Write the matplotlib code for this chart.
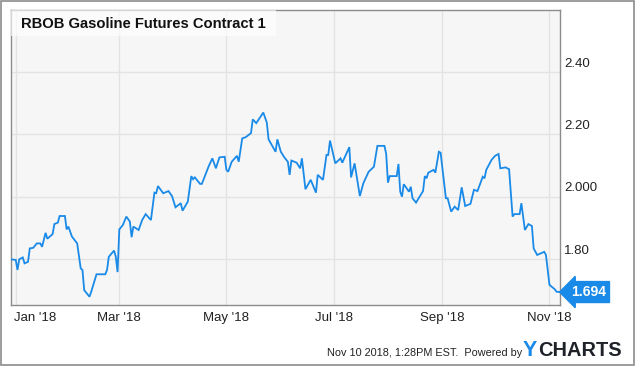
import matplotlib
matplotlib.use("Agg")
import matplotlib.pyplot as plt
import matplotlib.transforms as mtransforms
from matplotlib.patches import Rectangle
import pandas as pd

plt.rcParams['font.family'] = ['Liberation Sans', 'DejaVu Sans']

title = "RBOB Gasoline Futures Contract 1"
# day offsets from 2018-01-01 and settlement prices (USD/gal)
days = [-3, 0, 1, 2, 4, 5, 7, 8, 10, 12, 14, 15, 17, 18, 21, 22, 24, 25, 28, 29,
        30, 32, 35, 37, 38, 39, 42, 43, 46, 51, 52, 53, 56, 57, 58, 59, 61, 63, 65, 66,
        67, 70, 72, 74, 77, 79, 80, 81, 84, 87, 89, 91, 94, 95, 98, 100, 101, 102, 105, 106,
        108, 110, 112, 114, 116, 119, 120, 121, 123, 126, 127, 129, 131, 134, 135, 137, 141, 143, 144, 148,
        149, 151, 153, 155, 156, 157, 160, 162, 163, 165, 168, 171, 172, 175, 177, 178, 179, 182, 185, 186,
        190, 191, 193, 196, 198, 201, 204, 206, 210, 211, 212, 213, 217, 218, 219, 220, 221, 224, 225, 226,
        228, 232, 233, 234, 235, 238, 239, 241, 242, 245, 246, 248, 250, 252, 254, 256, 259, 261, 263, 266,
        267, 268, 271, 273, 275, 276, 279, 281, 283, 284, 287, 288, 290, 292, 294, 295, 297, 301, 302, 304,
        307, 308, 310]
prices = [1.799, 1.797, 1.765, 1.799, 1.805, 1.786, 1.791, 1.834, 1.836, 1.850, 1.850, 1.839, 1.884, 1.865, 1.880, 1.912, 1.917, 1.938, 1.938, 1.895,
          1.904, 1.872, 1.850, 1.770, 1.765, 1.700, 1.679, 1.695, 1.751, 1.751, 1.765, 1.807, 1.827, 1.807, 1.758, 1.895, 1.909, 1.936, 1.920, 1.870,
          1.904, 1.893, 1.925, 1.944, 1.925, 2.013, 2.011, 2.034, 2.011, 2.018, 2.002, 1.966, 1.979, 1.955, 1.984, 2.066, 2.056, 2.062, 2.041, 2.041,
          2.070, 2.099, 2.123, 2.091, 2.126, 2.128, 2.086, 2.080, 2.112, 2.131, 2.112, 2.187, 2.191, 2.204, 2.248, 2.236, 2.270, 2.238, 2.184, 2.144,
          2.184, 2.144, 2.126, 2.112, 2.070, 2.116, 2.109, 2.091, 2.123, 2.024, 2.054, 2.013, 2.070, 2.054, 2.134, 2.134, 2.180, 2.107, 2.123, 2.109,
          2.159, 2.062, 2.107, 2.002, 2.043, 2.080, 2.096, 2.163, 2.163, 2.137, 2.045, 2.066, 2.066, 2.105, 2.016, 2.000, 2.040, 2.016, 2.032, 1.995,
          1.981, 2.018, 2.066, 2.059, 2.077, 2.086, 2.077, 2.144, 2.141, 1.995, 1.995, 1.952, 1.968, 1.957, 2.030, 1.970, 1.977, 2.022, 2.018, 2.064,
          2.059, 2.086, 2.118, 2.131, 2.137, 2.091, 2.094, 2.088, 1.936, 1.944, 1.944, 1.979, 1.893, 1.912, 1.906, 1.834, 1.813, 1.823, 1.813, 1.717,
          1.703, 1.695, 1.694]
tick_dates = ["2018-01-01", "2018-03-01", "2018-05-01", "2018-07-01", "2018-09-01", "2018-11-01"]
tick_labels = ["Jan '18", "Mar '18", "May '18", "Jul '18", "Sep '18", "Nov '18"]
y_ticks = [1.80, 2.00, 2.20, 2.40]
y_labels = ["1.80", "2.000", "2.20", "2.40"]
footer = "Nov 10 2018, 1:28PM EST.  Powered by"

blue = "#1a8ae8"
W, H = 635, 366
fig = plt.figure(figsize=(W / 100, H / 100), dpi=100)
fig.patch.set_facecolor("white")

ax = fig.add_axes([11 / W, 1 - 305 / H, 549 / W, 295 / H])
ax.set_facecolor("#f6f6f6")

base = pd.Timestamp("2018-01-01")
dates = [base + pd.Timedelta(days=d) for d in days]
ax.plot(dates, prices, color=blue, lw=1.3, solid_joinstyle="miter", zorder=3)

ax.set_xlim(base + pd.Timedelta(days=-2.7), dates[-1])
ax.set_ylim(1.6524, 2.599)

xt = [pd.Timestamp(t) for t in tick_dates]
ax.set_xticks(xt)
ax.set_xticklabels(tick_labels)
ax.set_yticks(y_ticks)
ax.set_yticklabels(y_labels)
ax.yaxis.tick_right()
ax.tick_params(axis="both", length=0, labelsize=9.5, colors="#222222")
ax.tick_params(axis="x", pad=5)
ax.tick_params(axis="y", pad=3)
ax.grid(True, color="#e3e3e3", lw=1)
ax.set_axisbelow(True)
for s in ax.spines.values():
    s.set_color("#8c8c8c")
    s.set_linewidth(1)

up = mtransforms.ScaledTranslation(0, 10 / 100, fig.dpi_scale_trans)
for lab in ax.get_yticklabels():
    lab.set_transform(lab.get_transform() + up)
xl = ax.get_xticklabels()
xl[0].set_horizontalalignment("left")
xl[0].set_transform(xl[0].get_transform() + mtransforms.ScaledTranslation(-2 / 100, 0, fig.dpi_scale_trans))

# title box
fig.patches.append(Rectangle((11 / W, 1 - 36 / H), 265 / W, 26 / H, transform=fig.transFigure,
                             facecolor="white", edgecolor="none", alpha=0.65, zorder=5))
fig.text(21 / W, 1 - 23.5 / H, title, fontsize=10.6, fontweight="bold", color="#111111",
         va="center", ha="left", zorder=6)

# last value tag
ax.annotate(f"{prices[-1]:.3f}", xy=(1, prices[-1]), xycoords=("axes fraction", "data"),
            xytext=(11, 0), textcoords="offset pixels", ha="left", va="center",
            color="white", fontsize=10, fontweight="bold", annotation_clip=False,
            bbox=dict(boxstyle="larrow,pad=0.25", fc=blue, ec=blue))

# footer
fig.text(327 / W, 1 - 353 / H, footer, fontsize=7.8, color="#222222", va="center", ha="left")
fig.text(523 / W, 1 - 350 / H, "Y", fontsize=15.5, fontweight="heavy", color="#1a8ae8",
         va="center", ha="left")
fig.text(538 / W, 1 - 350 / H, "CHARTS", fontsize=14.4, fontweight="heavy", color="#1f2329",
         va="center", ha="left")

# outer border
fig.patches.append(Rectangle((1 / W, 1 / H), 633 / W, 364 / H, transform=fig.transFigure,
                             facecolor="none", edgecolor="#8c8c8c", lw=1.2, zorder=0))

fig.savefig("out.png", dpi=100)
